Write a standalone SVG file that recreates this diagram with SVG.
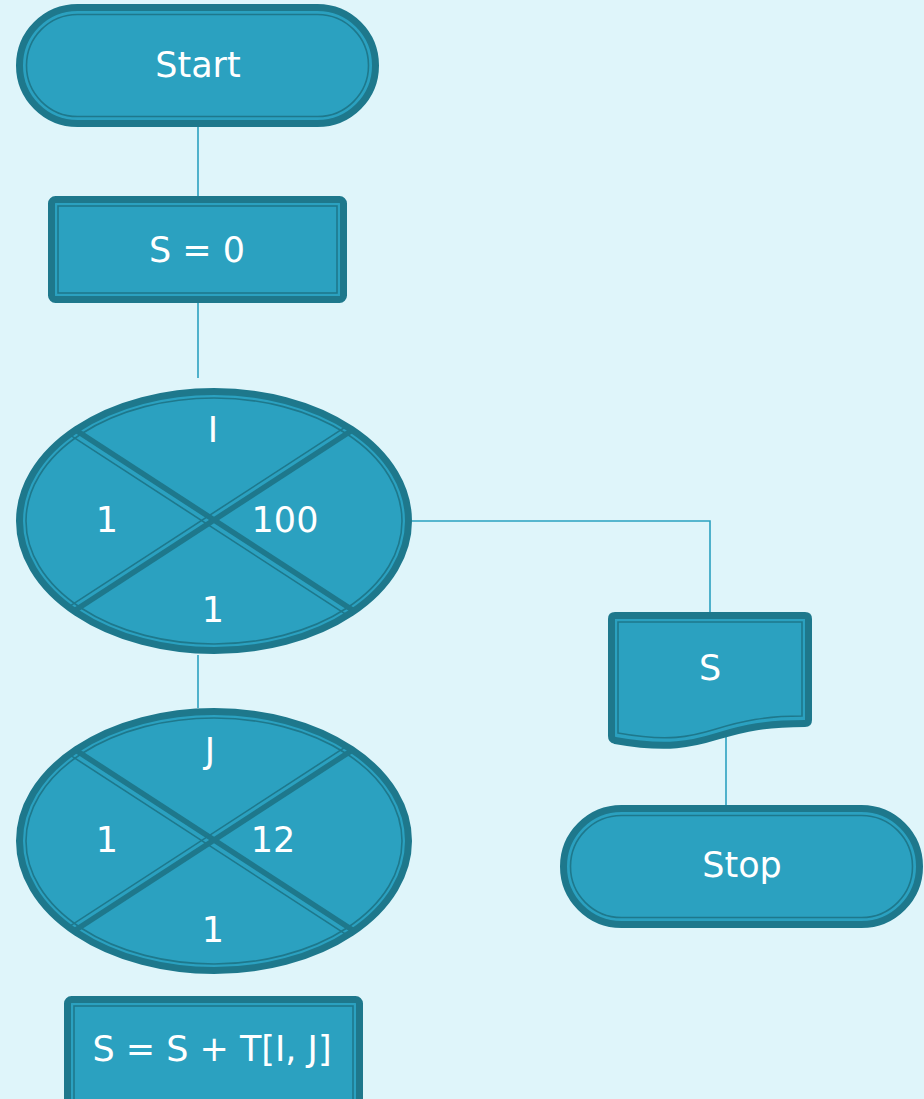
<svg xmlns="http://www.w3.org/2000/svg" xmlns:xlink="http://www.w3.org/1999/xlink" width="924" height="1099" viewBox="0 0 924 1099">
  <style>
    .outer { fill: #2ba1c0; stroke: #1e788c; stroke-width: 7; }
    .inner { fill: none; stroke: #1e788c; stroke-width: 1.6; }
    .edge { fill: none; stroke: #2ba1c0; stroke-width: 1.6; }
    .diag { stroke: #1e788c; stroke-width: 5.5; }
    .diag-thin { stroke: #1e788c; stroke-width: 1.6; }
    .label { font-family: "DejaVu Sans", "Liberation Sans", sans-serif; font-size: 35px; fill: #ffffff; text-anchor: middle; }
  </style>
  <defs>
    <clipPath id="loopClip">
      <ellipse cx="0" cy="0" rx="193" ry="128"/>
    </clipPath>
    <!-- loop symbol: ellipse split into four sectors by two diagonals -->
    <g id="loopShape">
      <ellipse cx="0" cy="0" rx="194.5" ry="129.5" fill="#2ba1c0"/>
      <ellipse class="inner" cx="0" cy="0" rx="188" ry="123"/>
      <g clip-path="url(#loopClip)">
        <line class="diag" x1="-200" y1="-131" x2="200" y2="129"/>
        <line class="diag-thin" x1="-204" y1="-125" x2="196" y2="135"/>
        <line class="diag" x1="200" y1="-131" x2="-200" y2="129"/>
        <line class="diag-thin" x1="196" y1="-136" x2="-204" y2="124"/>
      </g>
      <ellipse cx="0" cy="0" rx="194.5" ry="129.5" fill="none" stroke="#1e788c" stroke-width="7"/>
    </g>
  </defs>

  <rect width="924" height="1099" fill="#dff5fa"/>

  <g id="connectors">
    <path class="edge" d="M198,127 V197"/>
    <path class="edge" d="M198,303 V378"/>
    <path class="edge" d="M412,521 H710 V612"/>
    <path class="edge" d="M198,655 V708"/>
    <path class="edge" d="M726,733 V805"/>
  </g>

  <g id="start">
    <rect class="outer" x="19.5" y="7.5" width="356" height="116" rx="58" ry="58"/>
    <rect class="inner" x="26.5" y="14.5" width="342" height="102" rx="51" ry="51"/>
    <text class="label" x="198" y="77">Start</text>
  </g>

  <g id="init">
    <rect class="outer" x="51.5" y="199.5" width="292" height="100" rx="4"/>
    <rect class="inner" x="58" y="206" width="279" height="87"/>
    <text class="label" x="197" y="262">S = 0</text>
  </g>

  <g id="loopI">
    <use xlink:href="#loopShape" href="#loopShape" transform="translate(214,521)"/>
    <text class="label" x="213" y="442">I</text>
    <text class="label" x="107" y="532">1</text>
    <text class="label" x="285" y="532">100</text>
    <text class="label" x="213" y="622">1</text>
  </g>

  <g id="loopJ">
    <use xlink:href="#loopShape" href="#loopShape" transform="translate(214,841)"/>
    <text class="label" x="210" y="763">J</text>
    <text class="label" x="107" y="852">1</text>
    <text class="label" x="273" y="852">12</text>
    <text class="label" x="213" y="942">1</text>
  </g>

  <g id="accumulate">
    <rect class="outer" x="67.5" y="999.5" width="292" height="110" rx="4"/>
    <rect class="inner" x="74" y="1006" width="279" height="110"/>
    <text class="label" x="212" y="1061">S = S + T[I, J]</text>
  </g>

  <g id="output">
    <path class="outer" d="M615,615.5 H805 Q808.5,615.5 808.5,619 V720 Q808.5,723.5 805,723.5 C765,723.5 745,728 718,736 C692,744 668,750 615,740.5 Q611.5,739.5 611.5,736 V619 Q611.5,615.5 615,615.5 Z"/>
    <path class="inner" d="M618,622 H802 V716 C765,716 742,721 716,729 C690,737 668,742 618,733 Z"/>
    <text class="label" x="710" y="680">S</text>
  </g>

  <g id="stop">
    <rect class="outer" x="563.5" y="808.5" width="356" height="116" rx="58" ry="58"/>
    <rect class="inner" x="570.5" y="815.5" width="342" height="102" rx="51" ry="51"/>
    <text class="label" x="742" y="877">Stop</text>
  </g>
</svg>
